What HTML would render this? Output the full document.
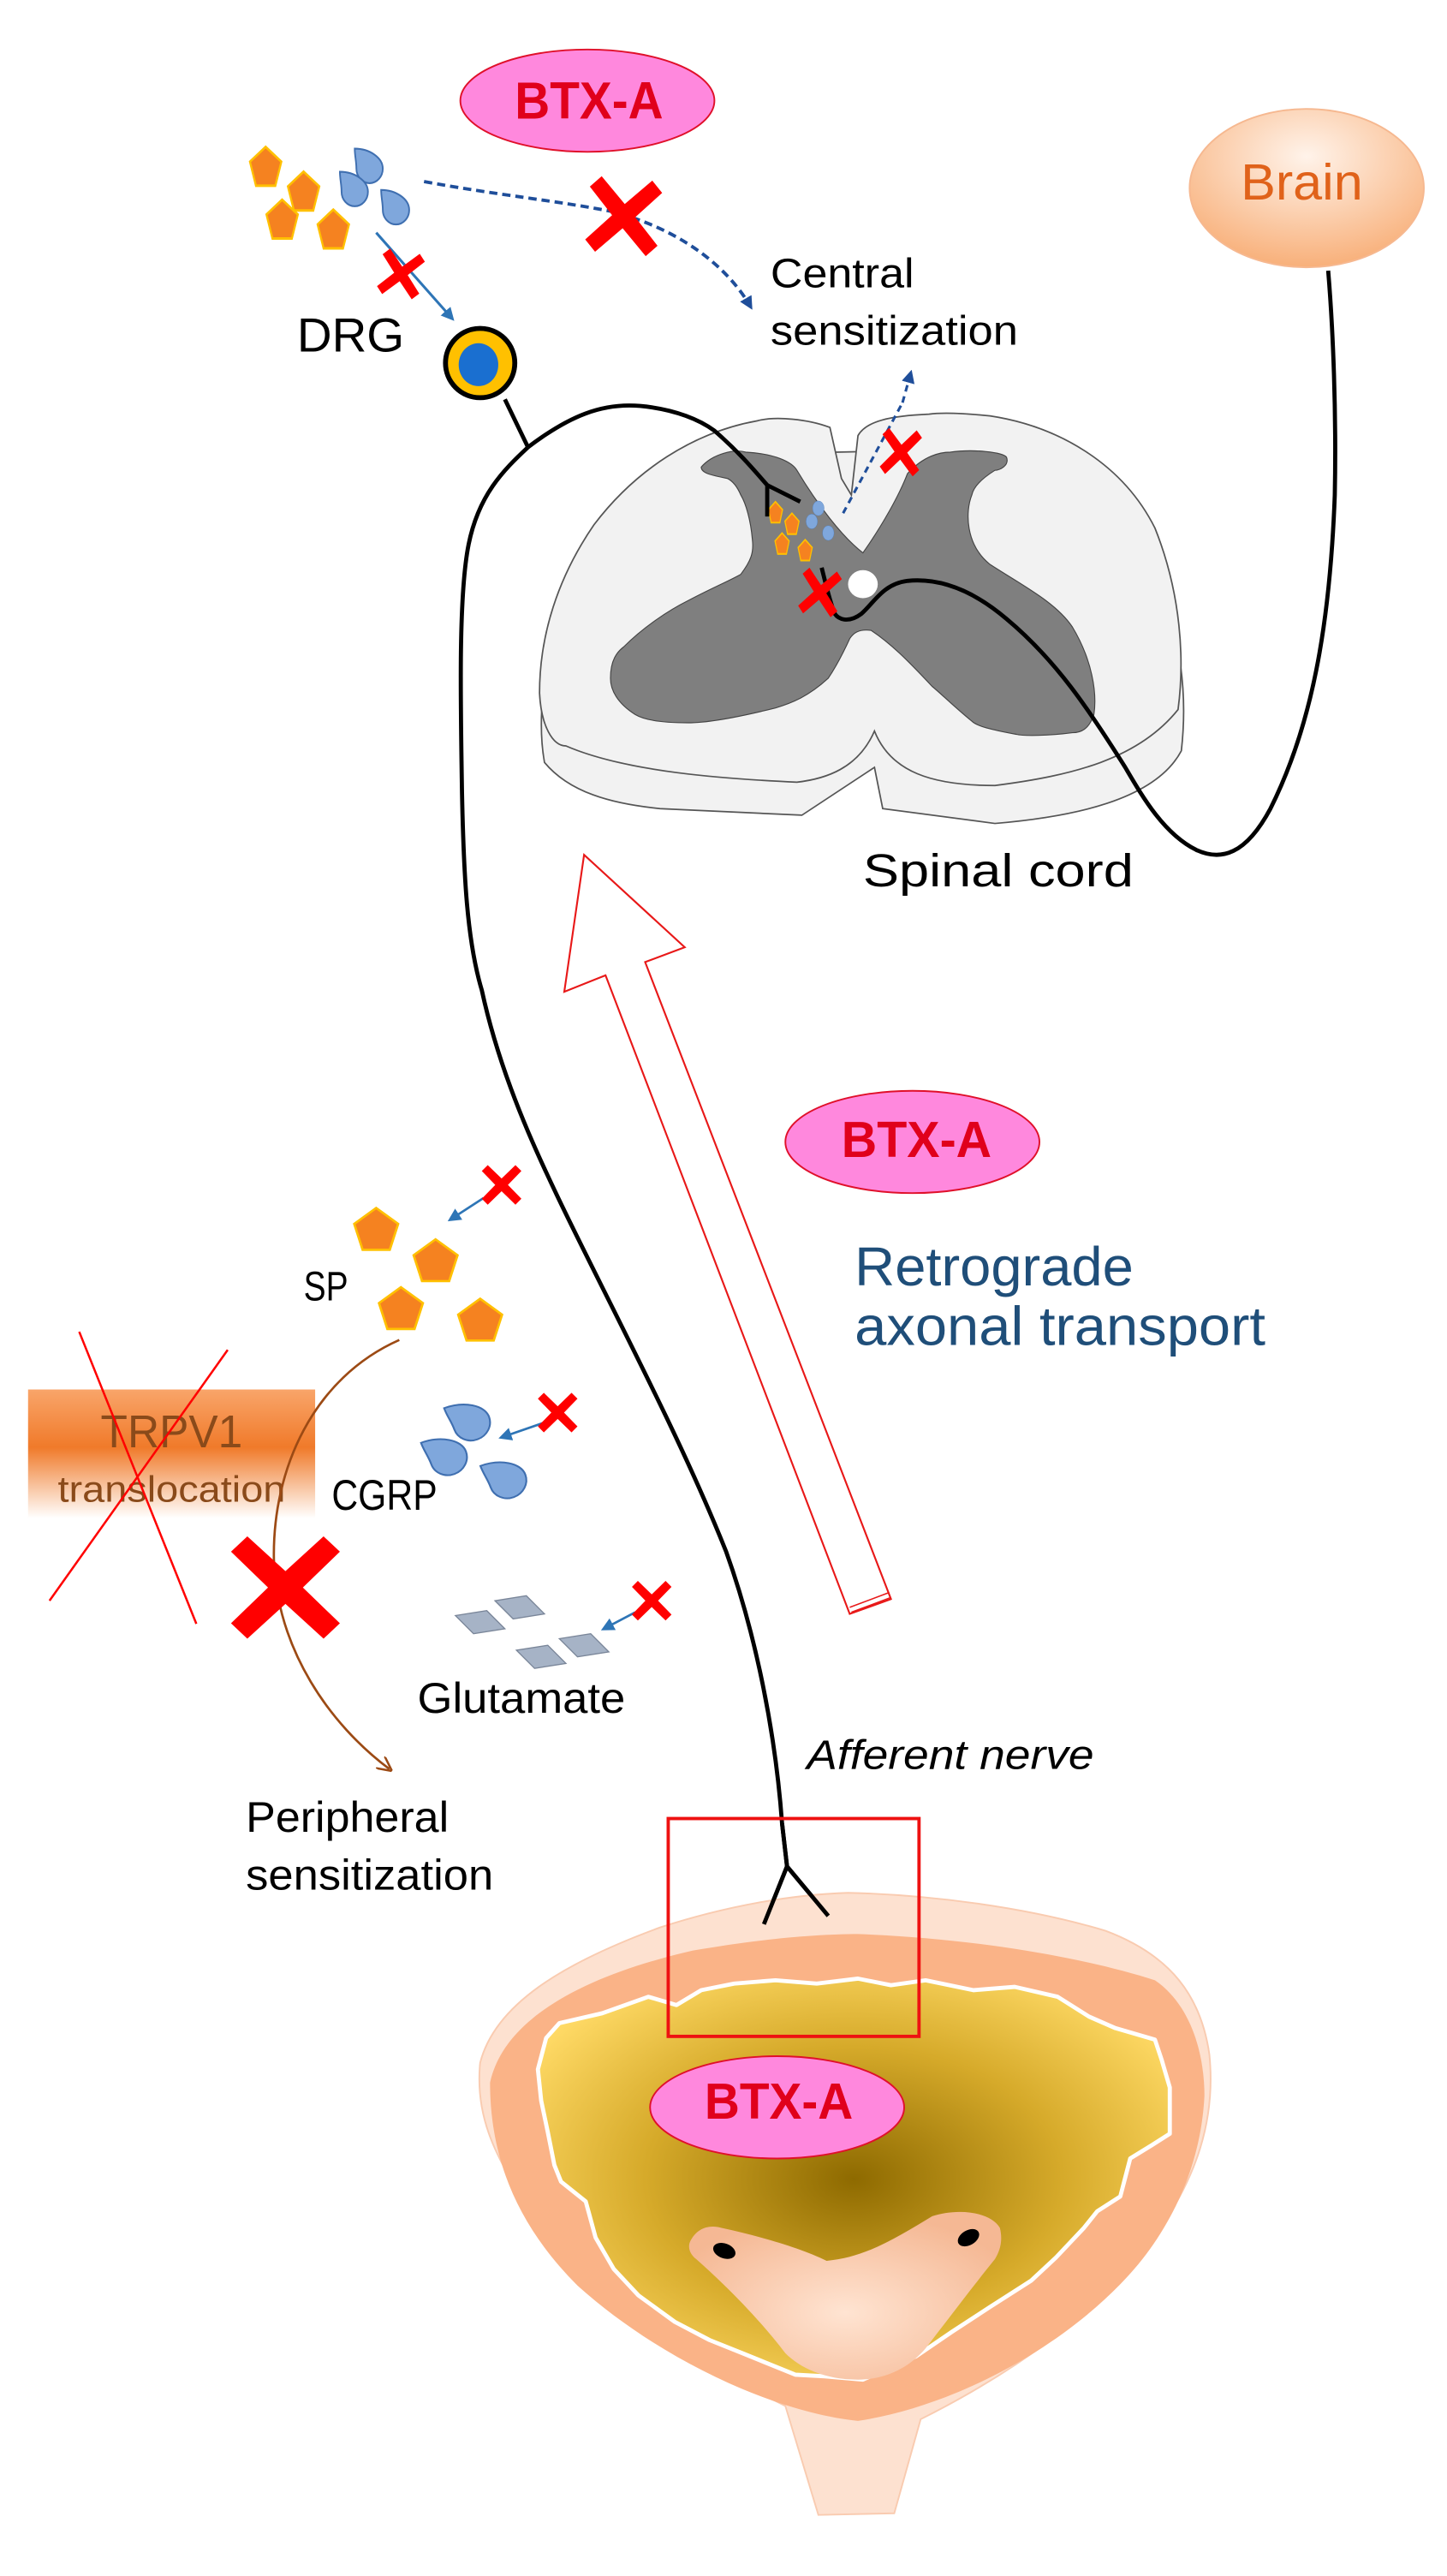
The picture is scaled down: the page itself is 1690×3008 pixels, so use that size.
<!DOCTYPE html>
<html><head><meta charset="utf-8"><style>
html,body{margin:0;padding:0;background:#fff;}
svg{display:block;}
text{font-family:"Liberation Sans",sans-serif;}
</style></head><body>
<svg width="1690" height="3008" viewBox="0 0 877 1561" xmlns="http://www.w3.org/2000/svg">
<defs>
<path id="pent" d="M0,-1 L0.951,-0.309 L0.588,0.809 L-0.588,0.809 L-0.951,-0.309 Z"/>
<path id="drop" d="M-0.9,-0.9 C0,-0.9 0.8,-0.4 0.8,0.2 A0.8,0.8 0 0 1 -0.8,0.2 C-0.8,-0.2 -0.9,-0.5 -0.9,-0.9 Z"/>
<path id="xx" d="M-1,-0.7 L-0.7,-1 L0,-0.32 L0.7,-1 L1,-0.7 L0.32,0 L1,0.7 L0.7,1 L0,0.32 L-0.7,1 L-1,0.7 L-0.32,0 Z"/>
<radialGradient id="brainG" cx="0.5" cy="0.3" r="0.7">
<stop offset="0" stop-color="#FFF3EA"/><stop offset="1" stop-color="#F8B07A"/></radialGradient>
<radialGradient id="yel" cx="0.5" cy="0.5" r="0.6">
<stop offset="0" stop-color="#8E6A00"/><stop offset="0.55" stop-color="#D6AA2A"/><stop offset="1" stop-color="#FFDA66"/></radialGradient>
<radialGradient id="trig" cx="0.5" cy="0.6" r="0.6">
<stop offset="0" stop-color="#FFE4D2"/><stop offset="1" stop-color="#F5B894"/></radialGradient>
<linearGradient id="trpv" x1="0" y1="0" x2="0" y2="1">
<stop offset="0" stop-color="#F9A56A"/><stop offset="0.45" stop-color="#F07A2A"/><stop offset="1" stop-color="#FFFFFF"/></linearGradient>
<marker id="ab" markerWidth="8" markerHeight="8" refX="6" refY="4" orient="auto" markerUnits="userSpaceOnUse"><path d="M0,0 L8,4 L0,8 Z" fill="#2E75B6"/></marker>
<marker id="ad" markerWidth="8" markerHeight="8" refX="6" refY="4" orient="auto" markerUnits="userSpaceOnUse"><path d="M0,0 L8,4 L0,8 Z" fill="#1F4E9A"/></marker>
<marker id="abr" markerWidth="9" markerHeight="9" refX="7" refY="4.5" orient="auto" markerUnits="userSpaceOnUse"><path d="M0,0 L9,4.5 L0,9" fill="none" stroke="#9C4A14" stroke-width="1.3"/></marker>
</defs>

<ellipse cx="356" cy="61" rx="77" ry="31" fill="#FF88DD" stroke="#E0102A" stroke-width="1"/>
<text x="312" y="72" font-size="32" font-weight="bold" fill="#E0001B" textLength="90" lengthAdjust="spacingAndGlyphs">BTX-A</text>

<ellipse cx="792" cy="114" rx="71" ry="48" fill="url(#brainG)" stroke="#F6B890" stroke-width="1"/>
<text x="752" y="121" font-size="31" fill="#E0621A" textLength="74" lengthAdjust="spacingAndGlyphs">Brain</text>

<g fill="#F58220" stroke="#FFC000" stroke-width="0.12">
<use href="#pent" transform="translate(161,102) scale(10,13)"/>
<use href="#pent" transform="translate(184,117) scale(10,13)"/>
<use href="#pent" transform="translate(171,134) scale(10,13)"/>
<use href="#pent" transform="translate(202,140) scale(10,13)"/>
</g>
<g fill="#7FA7DC" stroke="#3F6FB0" stroke-width="0.1">
<use href="#drop" transform="translate(224,100) scale(10,11)"/>
<use href="#drop" transform="translate(215,114) scale(10,11)"/>
<use href="#drop" transform="translate(240,125) scale(10,11)"/>
</g>
<path d="M257,110 C300,118 340,122 370,128 C410,138 440,160 455,186" fill="none" stroke="#1F4E9A" stroke-width="2" stroke-dasharray="5,3" marker-end="url(#ad)"/>
<use href="#xx" transform="translate(378,131) rotate(5) scale(22,23)" fill="#FF0000"/>
<line x1="228" y1="141" x2="274" y2="193" stroke="#2E75B6" stroke-width="1.6" marker-end="url(#ab)"/>
<use href="#xx" transform="translate(243,166) rotate(10) scale(13,14)" fill="#FF0000"/>

<text x="180" y="213" font-size="29" fill="#000" textLength="65" lengthAdjust="spacingAndGlyphs">DRG</text>
<text x="467" y="174" font-size="25" fill="#000" textLength="87" lengthAdjust="spacingAndGlyphs">Central</text>
<text x="467" y="209" font-size="25" fill="#000" textLength="150" lengthAdjust="spacingAndGlyphs">sensitization</text>

<path d="M459,275 C400,285 360,320 340,370 C328,405 326,440 330,462 C345,480 370,487 400,490 L486,494 L530,465 L535,490 L603,499 C650,495 700,485 716,455 C720,420 716,390 700,340 C680,300 640,275 600,272 Z" fill="#F2F2F2" stroke="#555" stroke-width="0.9"/>
<path d="M503,259 C490,254 470,252 459,255 C420,262 385,285 360,318 C338,350 327,385 327,420 C328,440 335,452 343,452 C380,468 440,472 483,474 C500,472 520,466 530,443 C540,468 565,476 603,476 C650,470 690,460 714,430 C718,400 716,360 700,320 C680,280 640,258 600,252 C580,250 570,250 563,251 C540,252 525,255 520,264 L516,300 L510,290 Z" fill="#F2F2F2" stroke="#555" stroke-width="0.9"/>
<path d="M425,283 C432,275 445,272 452,274 C470,275 480,280 483,285 C495,305 510,325 523,335 C535,318 545,300 550,287 C560,276 570,274 576,274 C590,272 608,274 610,277 C612,282 606,285 603,285 C595,290 590,295 589,300 C585,310 585,330 600,342 C620,355 640,365 650,380 C662,400 665,420 663,433 C660,442 655,444 650,444 C635,446 620,446 616,445 C600,442 592,440 589,437 C578,428 570,420 565,416 C550,400 540,390 528,382 C520,381 517,384 515,387 C510,398 506,405 502,411 C490,422 480,426 470,429 C450,434 430,438 417,438 C400,438 390,436 385,433 C374,426 370,418 370,411 C370,400 374,395 378,392 C390,380 405,370 417,364 C430,357 442,352 449,348 C455,340 457,335 456,327 C455,315 452,305 449,300 C446,293 443,291 441,290 C432,288 425,287 425,283 Z" fill="#7F7F7F" stroke="#444" stroke-width="0.6"/>
<ellipse cx="523" cy="354" rx="9" ry="8.5" fill="#fff"/>
<g fill="#F58220" stroke="#FFC000" stroke-width="0.15">
<use href="#pent" transform="translate(470,311) scale(4.5,7)"/>
<use href="#pent" transform="translate(480,318) scale(4.5,7)"/>
<use href="#pent" transform="translate(474,330) scale(4.5,7)"/>
<use href="#pent" transform="translate(488,334) scale(4.5,7)"/>
</g>
<g fill="#7FA7DC" stroke="#3F6FB0" stroke-width="0.15">
<ellipse cx="496" cy="308" rx="3.5" ry="4.5"/>
<ellipse cx="492" cy="316" rx="3.5" ry="4.5"/>
<ellipse cx="502" cy="323" rx="3.5" ry="4.5"/>
</g>
<path d="M511,311 L547,244" fill="none" stroke="#1F4E9A" stroke-width="1.6" stroke-dasharray="4,3"/>
<path d="M547,244 L552,226" fill="none" stroke="#1F4E9A" stroke-width="1.6" stroke-dasharray="4,3" marker-end="url(#ad)"/>
<use href="#xx" transform="translate(546,274) rotate(5) scale(12,14)" fill="#FF0000"/>

<circle cx="291" cy="220" r="21" fill="#FFC000" stroke="#000" stroke-width="3"/>
<ellipse cx="290" cy="221" rx="12" ry="13" fill="#1A6FD0"/>
<path d="M306,242 L320,271" stroke="#000" stroke-width="2.5" fill="none"/>
<path d="M320,271 C345,252 365,244 388,246 C410,248 425,255 433,261 C448,274 458,286 465,294" stroke="#000" stroke-width="2.5" fill="none"/>
<path d="M465,294 L485,304 M465,294 L465,313" stroke="#000" stroke-width="2.5" fill="none"/>
<path d="M320,271 C305,285 290,300 284,330 C278,360 279,420 280,480 C281,530 283,570 292,600 C305,660 330,710 365,780 C395,840 420,890 440,940 C458,990 470,1050 474,1105 L477,1131 M477,1131 L463,1166 M477,1131 L502,1161" stroke="#000" stroke-width="2.5" fill="none"/>
<path d="M805,164 C808,200 810,250 809,300 C806,380 795,440 770,490 C755,518 740,522 725,515 C705,505 692,482 682,465 C660,430 640,400 610,375 C590,358 570,350 550,352 C535,354 530,365 522,372 C514,378 508,375 506,372 C503,365 500,352 498,344" stroke="#000" stroke-width="2.5" fill="none"/>
<use href="#xx" transform="translate(497,359) rotate(8) scale(12,14)" fill="#FF0000"/>

<text x="523" y="537" font-size="28" fill="#000" textLength="164" lengthAdjust="spacingAndGlyphs">Spinal cord</text>

<polygon points="354,518 415,574 391,583 540,969 515,978 367,591 342,601" fill="#fff" stroke="#E81818" stroke-width="1.1"/>
<path d="M515,974 L539,965 M516,977 L540,968" stroke="#E81818" stroke-width="0.8"/>

<ellipse cx="553" cy="692" rx="77" ry="31" fill="#FF88DD" stroke="#E0102A" stroke-width="1"/>
<text x="510" y="701" font-size="31" font-weight="bold" fill="#E0001B" textLength="91" lengthAdjust="spacingAndGlyphs">BTX-A</text>
<text x="518" y="779" font-size="33" fill="#1F4E79" textLength="169" lengthAdjust="spacingAndGlyphs">Retrograde</text>
<text x="518" y="815" font-size="33" fill="#1F4E79" textLength="249" lengthAdjust="spacingAndGlyphs">axonal transport</text>

<g fill="#F58220" stroke="#FFC000" stroke-width="0.1">
<use href="#pent" transform="translate(228,746) scale(14,14)"/>
<use href="#pent" transform="translate(264,765) scale(14,14)"/>
<use href="#pent" transform="translate(243,794) scale(14,14)"/>
<use href="#pent" transform="translate(291,801) scale(14,14)"/>
</g>
<line x1="293" y1="726" x2="273" y2="739" stroke="#2E75B6" stroke-width="1.4" marker-end="url(#ab)"/>
<use href="#xx" transform="translate(304,718) scale(12,12)" fill="#FF0000"/>
<text x="184" y="788" font-size="25" fill="#000" textLength="27" lengthAdjust="spacingAndGlyphs">SP</text>

<rect x="17" y="842" width="174" height="78" fill="url(#trpv)"/>
<text x="61" y="877" font-size="28" fill="#8A4A1A" textLength="86" lengthAdjust="spacingAndGlyphs">TRPV1</text>
<text x="35" y="910" font-size="22" fill="#8A4A1A" textLength="138" lengthAdjust="spacingAndGlyphs">translocation</text>
<line x1="48" y1="807" x2="119" y2="984" stroke="#FF0000" stroke-width="1.3"/>
<line x1="138" y1="818" x2="30" y2="970" stroke="#FF0000" stroke-width="1.3"/>
<path d="M242,812 C190,835 165,890 166,945 C168,1000 200,1045 236,1072" fill="none" stroke="#9C4A14" stroke-width="1.4" marker-end="url(#abr)"/>
<use href="#xx" transform="translate(173,962) scale(33,31)" fill="#FF0000"/>

<g fill="#7FA7DC" stroke="#3F6FB0" stroke-width="0.08">
<use href="#drop" transform="translate(285,860) rotate(-20) scale(14,13)"/>
<use href="#drop" transform="translate(271,881) rotate(-20) scale(14,13)"/>
<use href="#drop" transform="translate(307,895) rotate(-20) scale(14,13)"/>
</g>
<line x1="330" y1="862" x2="304" y2="871" stroke="#2E75B6" stroke-width="1.4" marker-end="url(#ab)"/>
<use href="#xx" transform="translate(338,856) scale(12,12)" fill="#FF0000"/>
<text x="201" y="915" font-size="26" fill="#000" textLength="64" lengthAdjust="spacingAndGlyphs">CGRP</text>

<g fill="#A6B3C6" stroke="#7A8699" stroke-width="0.7">
<polygon points="276,979 295,976 306,987 287,990"/>
<polygon points="300,970 319,967 330,978 311,981"/>
<polygon points="313,1000 332,997 343,1008 324,1011"/>
<polygon points="339,993 358,990 369,1001 350,1004"/>
</g>
<line x1="385" y1="977" x2="366" y2="987" stroke="#2E75B6" stroke-width="1.4" marker-end="url(#ab)"/>
<use href="#xx" transform="translate(395,970) scale(12,12)" fill="#FF0000"/>
<text x="253" y="1038" font-size="26" fill="#000" textLength="126" lengthAdjust="spacingAndGlyphs">Glutamate</text>

<text x="149" y="1110" font-size="26" fill="#000" textLength="123" lengthAdjust="spacingAndGlyphs">Peripheral</text>
<text x="149" y="1145" font-size="26" fill="#000" textLength="150" lengthAdjust="spacingAndGlyphs">sensitization</text>
<text x="489" y="1072" font-size="25" font-style="italic" fill="#000" textLength="174" lengthAdjust="spacingAndGlyphs">Afferent nerve</text>

<path d="M291,1250 C300,1215 340,1190 400,1168 C440,1155 480,1148 514,1147 C560,1148 620,1155 670,1170 C710,1185 728,1210 733,1245 C737,1285 725,1320 700,1355 C670,1400 610,1440 558,1466 L542,1523 L496,1524 L476,1458 C420,1430 360,1390 322,1340 C298,1305 288,1280 291,1250 Z" fill="#FDE1D0" stroke="#F9CBB0" stroke-width="1"/>
<path d="M297,1262 C305,1225 350,1198 420,1182 C460,1175 495,1172 520,1172 C580,1174 650,1184 700,1200 C722,1215 730,1245 730,1270 C728,1310 712,1345 690,1372 C650,1420 580,1458 520,1467 C470,1462 400,1430 350,1385 C315,1350 297,1310 297,1262 Z" fill="#FAB387"/>
<path d="M326,1254 L331,1235 L339,1226 L365,1220 L393,1210 L410,1215 L425,1206 L445,1202 L470,1200 L495,1202 L520,1199 L540,1203 L561,1200 L590,1206 L615,1204 L641,1210 L660,1222 L676,1229 L700,1236 L704,1248 L709,1265 L709,1293 L698,1300 L685,1308 L679,1331 L665,1340 L657,1350 L640,1368 L625,1382 L600,1398 L577,1413 L555,1428 L523,1442 L500,1440 L482,1439 L450,1426 L430,1418 L409,1407 L387,1391 L372,1375 L361,1356 L355,1334 L340,1322 L336,1312 L332,1292 L328,1273 Z" fill="url(#yel)" stroke="#fff" stroke-width="2.5" stroke-linejoin="round"/>
<path d="M418,1359 C422,1350 430,1348 437,1350 C460,1355 485,1362 501,1370 C525,1368 545,1355 565,1343 C580,1338 600,1340 606,1350 C608,1358 606,1364 603,1369 C590,1385 575,1405 561,1423 C550,1436 535,1442 520,1442 C500,1442 485,1435 476,1426 C460,1405 440,1385 422,1369 C418,1366 417,1362 418,1359 Z" fill="url(#trig)"/>
<ellipse cx="439" cy="1364" rx="7" ry="4.5" transform="rotate(20 439 1364)" fill="#000"/>
<ellipse cx="587" cy="1356" rx="7" ry="4.5" transform="rotate(-30 587 1356)" fill="#000"/>
<ellipse cx="471" cy="1277" rx="77" ry="31" fill="#FF88DD" stroke="#E0102A" stroke-width="1"/>
<text x="427" y="1284" font-size="31" font-weight="bold" fill="#E0001B" textLength="90" lengthAdjust="spacingAndGlyphs">BTX-A</text>
<path d="M463,1166 L477,1131 L502,1161 M474,1105 L477,1131" stroke="#000" stroke-width="2.5" fill="none"/>
<rect x="405" y="1102" width="152" height="132" fill="none" stroke="#EE1111" stroke-width="2"/>
</svg>
</body></html>
